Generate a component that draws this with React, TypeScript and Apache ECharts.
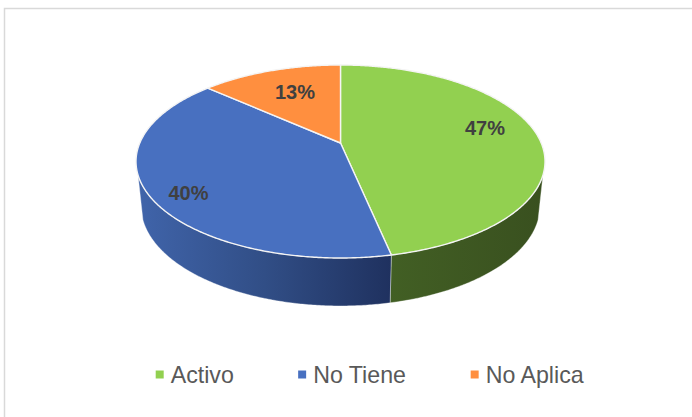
import React, { useEffect, useRef } from "react";
import * as echarts from "echarts";

const categories = ["Activo", "No Tiene", "No Aplica"];
const shares = [46.7, 39.9, 13.4];
const topColors = ["#92D050", "#4870C0", "#FF8F3F"];
const legendColors = ["#92D050", "#4870C0", "#FF8F3F"];

const TOP = { cx: 340.5, cy: 143, a: 200.7, b: 92.95, k: 0.1917 };
const BOTTOM = { cx: 340.5, cy: 186.8, a: 195.8, b: 96.3, k: 0.1917 };
const SILHOUETTE = 108.8;
const LABEL_AT: [number, number][] = [
  [485, 128],
  [188.5, 193],
  [295, 92],
];

function project(p: typeof TOP, deg: number): [number, number] {
  const t = (deg * Math.PI) / 180;
  const u = Math.sin(t);
  const v = -Math.cos(t);
  const w = 1 - p.k * v;
  return [p.cx + (p.a * u) / w, p.cy + (p.b * v) / w];
}

function arc(p: typeof TOP, from: number, to: number): [number, number][] {
  const n = Math.max(2, Math.ceil(Math.abs(to - from) * 2));
  const out: [number, number][] = [];
  for (let i = 0; i <= n; i++) out.push(project(p, from + ((to - from) * i) / n));
  return out;
}

function sideFill(i: number): any {
  if (i === 0) {
    return new echarts.graphic.LinearGradient(0, 0, 1, 0, [
      { offset: 0, color: "#425F24" },
      { offset: 1, color: "#39501F" },
    ]);
  }
  return new echarts.graphic.LinearGradient(0, 0, 1, 0, [
    { offset: 0, color: "#4064AA" },
    { offset: 0.5, color: "#314E86" },
    { offset: 1, color: "#1F315F" },
  ]);
}

function makeRender(i: number) {
  return (_params: any, api: any) => {
    const total = shares.reduce((s, x) => s + x, 0);
    const before = shares.slice(0, i).reduce((s, x) => s + x, 0);
    const value = api.value(0);
    const start = (before / total) * 360;
    const end = ((before + value) / total) * 360;
    const children: any[] = [];
    const sFrom = Math.max(start, SILHOUETTE);
    const sTo = Math.min(end, 360 - SILHOUETTE);
    if (sTo > sFrom) {
      children.push({
        type: "polygon",
        shape: { points: [...arc(BOTTOM, sFrom, sTo), ...arc(TOP, sTo, sFrom)] },
        style: { fill: sideFill(i), stroke: "#FFFFFF", lineWidth: 0.6, strokeOpacity: 0.6 },
      });
    }
    children.push({
      type: "polygon",
      shape: { points: [[TOP.cx, TOP.cy], ...arc(TOP, start, end)] },
      style: { fill: topColors[i], stroke: "#F4F4F4", lineWidth: 1.4, lineJoin: "round" },
    });
    children.push({
      type: "text",
      z2: 10,
      style: {
        text: `${Math.round(value)}%`,
        x: LABEL_AT[i][0],
        y: LABEL_AT[i][1],
        align: "center",
        verticalAlign: "middle",
        fill: "#404040",
        font: 'bold 20px "Liberation Sans", Arial, sans-serif',
      },
    });
    return { type: "group", children };
  };
}

export default function App() {
  const ref = useRef<HTMLDivElement>(null);
  useEffect(() => {
    document.body.style.margin = "0";
    const chart = echarts.init(ref.current!, undefined, { renderer: "svg" });
    chart.setOption({
      animation: false,
      backgroundColor: "#FFFFFF",
      color: legendColors,
      tooltip: { show: false },
      legend: {
        show: true,
        data: categories,
        left: 155.7,
        top: 363,
        padding: 0,
        icon: "rect",
        itemWidth: 8,
        itemHeight: 8,
        itemGap: 64.3,
        selectedMode: false,
        textStyle: {
          color: "#595959",
          fontSize: 23.2,
          fontFamily: '"Liberation Sans", Arial, sans-serif',
          padding: [0, 0, 0, 2],
        },
      },
      graphic: [
        {
          type: "polyline",
          silent: true,
          shape: { points: [[4.5, 417], [4.5, 8.5], [692, 8.5]] },
          style: { fill: "none", stroke: "#D9D9D9", lineWidth: 1.5 },
        },
      ],
      series: categories.map((name, i) => ({
        type: "custom",
        name,
        coordinateSystem: "none",
        silent: true,
        clip: false,
        itemStyle: { color: legendColors[i] },
        data: [[shares[i]]],
        renderItem: makeRender(i),
      })),
    });
    return () => chart.dispose();
  }, []);
  return <div ref={ref} style={{ width: 692, height: 417 }} />;
}
